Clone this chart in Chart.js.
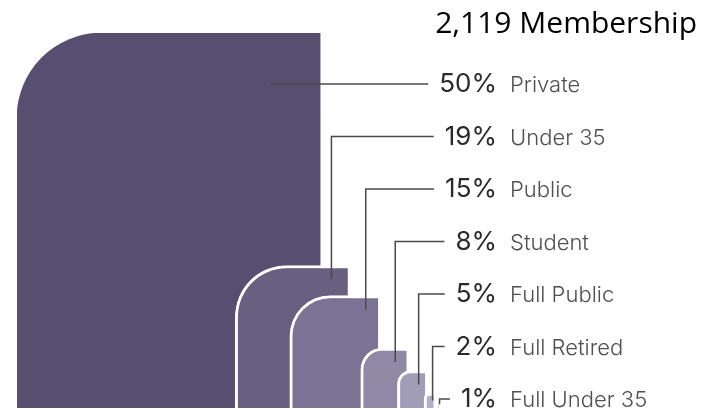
<!DOCTYPE html>
<html>
<head>
<meta charset="utf-8">
<script src="https://cdn.jsdelivr.net/npm/chart.js@4.4.1/dist/chart.umd.min.js"></script>
<style>
  html, body { margin: 0; padding: 0; background: #fff; }
  canvas { display: block; }
</style>
</head>
<body>
<canvas id="myChart" width="711" height="415"></canvas>
<script>
const ctx = document.getElementById("myChart");

// membership breakdown (percent of total)
const totalMembers = 2119;
const categories = ["Private", "Under 35", "Public", "Student", "Full Public", "Full Retired", "Full Under 35"];
const shares = [50, 19, 15, 8, 5, 2, 1];

const colors = ["#574f70", "#686081", "#7a7393", "#8f89a6", "#a29db6", "#b4afc5", "#c4bfd2"];

// each box sticks out a little past the right edge of the previous one
let rightEdge = 0;
const centers = shares.map((v, i) => {
  rightEdge = i === 0 ? v : rightEdge + Math.min(5, 0.55 * v + 0.3);
  return rightEdge - v / 2;
});

const pxWidth = (chart, v) =>
  chart.scales.x.getPixelForValue(v) - chart.scales.x.getPixelForValue(0);

const labelsPlugin = {
  id: "membershipLabels",
  afterDraw: (chart) => {
    const c = chart.ctx;
    c.save();

    // title
    c.fillStyle = "#000";
    c.font = "30px 'Open Sans'";
    c.textAlign = "right";
    c.textBaseline = "alphabetic";
    c.fillText(totalMembers.toLocaleString("en-US") + " Membership", 697, 33);

    const pctRight = 497;
    const nameLeft = 510;

    shares.forEach((v, i) => {
      const bar = chart.getDatasetMeta(i).data[0];
      const { x, y, width, base } = bar.getProps(["x", "y", "width", "base"], true);
      const right = x + width / 2;
      const h = base - y;
      const baseline = 92 + i * 52.5;
      const lineY = baseline - 8;

      const pct = v + "%";
      c.font = "26px Inter";
      const pctW = c.measureText(pct).width;
      c.fillStyle = "#2b2b2b";
      c.textAlign = "right";
      c.fillText(pct, pctRight, baseline);

      c.font = "300 22px Inter";
      c.fillStyle = "#505050";
      c.textAlign = "left";
      c.fillText(categories[i], nameLeft, baseline);

      // leader line
      const ax = right - Math.max(0.165 * width, Math.min(0.3 * width, 14));
      const endY = y + Math.min(14, 0.5 * h);
      const lineEnd = pctRight - pctW - 11;
      c.strokeStyle = "#4a4a4a";
      c.lineWidth = 1.5;
      c.beginPath();
      if (lineY >= endY) {
        c.moveTo(ax, lineY);
      } else {
        c.moveTo(ax, endY);
        c.lineTo(ax, lineY);
      }
      c.lineTo(lineEnd, lineY);
      c.stroke();
    });

    c.restore();
  },
};

new Chart(ctx, {
  type: "bar",
  data: {
    datasets: shares.map((v, i) => ({
      label: categories[i],
      data: [{ x: centers[i], y: v }],
      backgroundColor: colors[i],
      borderColor: "#ffffff",
      borderWidth: i === 0 ? 0 : 3,
      borderSkipped: "bottom",
      grouped: false,
      order: -i,
      barThickness: (c) => pxWidth(c.chart, v),
      borderRadius: (c) => ({
        topLeft: Math.min(85, 0.45 * pxWidth(c.chart, v)),
        topRight: 0,
        bottomLeft: 0,
        bottomRight: 0,
      }),
    })),
  },
  options: {
    responsive: false,
    animation: false,
    devicePixelRatio: 1,
    layout: { padding: { left: 17, right: 15, top: 33, bottom: 7 } },
    scales: {
      x: { type: "linear", min: 0, max: 112, offset: false, display: false },
      y: { min: 0, max: 50, display: false },
    },
    plugins: {
      legend: { display: false },
      tooltip: { enabled: false },
    },
  },
  plugins: [labelsPlugin],
});
</script>
</body>
</html>
